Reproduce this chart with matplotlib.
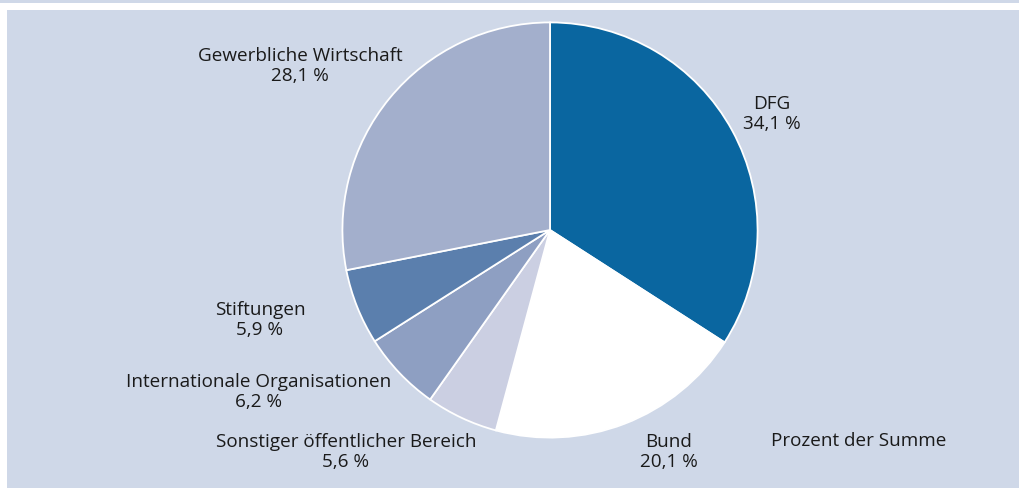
import matplotlib.pyplot as plt
from matplotlib.patches import Rectangle

# shares of funding sources, clockwise from top
sources = ['DFG', 'Bund', 'Sonstiger öffentlicher Bereich',
           'Internationale Organisationen', 'Stiftungen', 'Gewerbliche Wirtschaft']
shares = [34.1, 20.1, 5.6, 6.2, 5.9, 28.1]
colors = ['#0a66a0', '#ffffff', '#cbcfe2', '#8e9fc2', '#5b7fad', '#a3afcc']

# label centres in pixels (x, y from top)
label_pos = [(772, 103), (669, 441), (346, 441), (259, 381), (260, 309), (300, 55)]

W, H = 1019, 488
bg = '#cfd8e8'
plt.rcParams['font.family'] = ['Open Sans', 'DejaVu Sans']

fig = plt.figure(figsize=(W / 100, H / 100), dpi=100)
fig.patch.set_facecolor('white')

# background panels
fig.add_artist(Rectangle((0, 1 - 3 / H), 1, 3 / H, transform=fig.transFigure,
                         facecolor=bg, edgecolor='none', zorder=-5))
fig.add_artist(Rectangle((7 / W, 0), 1 - 7 / W, 1 - 10 / H, transform=fig.transFigure,
                         facecolor=bg, edgecolor='none', zorder=-5))

# pie axes
cx, cy, r = 550, 230, 208
ax = fig.add_axes([(cx - r) / W, (H - cy - r) / H, 2 * r / W, 2 * r / H])
ax.pie(shares, colors=colors, startangle=90, counterclock=False,
       wedgeprops=dict(edgecolor='white', linewidth=1.3))
ax.set_xlim(-1.002, 1.002)
ax.set_ylim(-1.002, 1.002)
ax.set_aspect('equal')
ax.axis('off')

for name, val, (x, y) in zip(sources, shares, label_pos):
    txt = name + '\n' + f'{val:.1f}'.replace('.', ',') + ' %'
    fig.text(x / W, 1 - (y + 11) / H, txt, ha='center', va='center',
             fontsize=13.6, linespacing=1.2, color='#1a1a1a')

fig.text(771 / W, 1 - 441 / H, 'Prozent der Summe', ha='left', va='center',
         fontsize=13.6, color='#1a1a1a')

fig.savefig('out.png', dpi=100, facecolor=fig.get_facecolor())
